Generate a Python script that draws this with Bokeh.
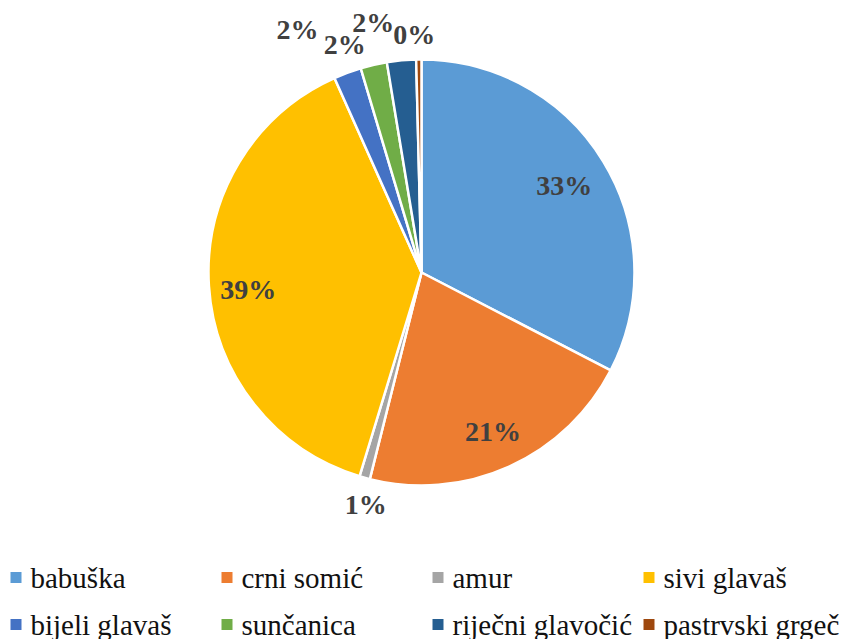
import math
from bokeh.plotting import figure
from bokeh.models import ColumnDataSource, Range1d
from bokeh.core.properties import value
from bokeh.embed import file_html
from bokeh.resources import INLINE

# ---- data ----
categories = ["babuška", "crni somić", "amur", "sivi glavaš",
              "bijeli glavaš", "sunčanica", "riječni glavočić", "pastrvski grgeč"]
shares = [32.6, 21.3, 0.8, 38.6, 2.1, 2.0, 2.2, 0.4]
colors = ["#5B9BD5", "#ED7D31", "#A5A5A5", "#FFC000",
          "#4472C4", "#70AD47", "#255E91", "#9E480E"]

# label placement (style): radius and angular nudge (degrees) per label
label_radius = [167, 174, 239, 174, 273, 241, 255, 238]
label_nudge = [0, 0, -2, -2, -6.7, -5.6, -5.5, -1]

FONT = "Liberation Serif"
W, H = 841, 639
cx, cy, R = 421, H - 272, 213

# legend layout (style)
LEG_COLS = 4
LEG_X0, LEG_DX = 15.5, 211
LEG_ROW_Y = [H - 577, H - 624]
LEG_TEXT_GAP = 14.5

total = sum(shares)
starts, ends, lx, ly, ltxt = [], [], [], [], []
cum = 0.0
for i, s in enumerate(shares):
    a0 = math.pi / 2 - 2 * math.pi * cum / total
    cum += s
    a1 = math.pi / 2 - 2 * math.pi * cum / total
    starts.append(a0)
    ends.append(a1)
    mid = (a0 + a1) / 2 - math.radians(label_nudge[i])
    lx.append(cx + label_radius[i] * math.cos(mid))
    ly.append(cy + label_radius[i] * math.sin(mid))
    ltxt.append(f"{round(100 * s / total):.0f}%")

p = figure(width=W, height=H, output_backend="svg", toolbar_location=None,
           x_range=Range1d(0, W), y_range=Range1d(0, H),
           min_border=0, outline_line_color=None)
p.axis.visible = False
p.grid.visible = False
p.background_fill_color = "white"

src = ColumnDataSource(dict(cat=categories, start=starts, end=ends, color=colors))
p.wedge(x=cx, y=cy, radius=R, start_angle="start", end_angle="end",
        direction="clock", fill_color="color", line_color="white",
        line_width=2.5, source=src)

lsrc = ColumnDataSource(dict(x=lx, y=ly, t=ltxt))
p.text(x="x", y="y", text="t", source=lsrc, text_align="center",
       text_baseline="middle", text_font=value(FONT),
       text_font_size="28px", text_font_style="bold", text_color="#404040")

# legend (drawn as marks in a 4-column grid)
mx = [LEG_X0 + (i % LEG_COLS) * LEG_DX for i in range(len(categories))]
my = [LEG_ROW_Y[i // LEG_COLS] for i in range(len(categories))]
gsrc = ColumnDataSource(dict(x=mx, y=my, tx=[v + LEG_TEXT_GAP for v in mx],
                             cat=categories, color=colors))
p.scatter(x="x", y="y", marker="square", size=11, fill_color="color",
          line_color=None, source=gsrc)
p.text(x="tx", y="y", text="cat", source=gsrc, text_align="left",
       text_baseline="middle", text_font=value(FONT), text_font_size="29px",
       text_color="#111111")

open("out.html", "w").write(file_html(p, INLINE))
